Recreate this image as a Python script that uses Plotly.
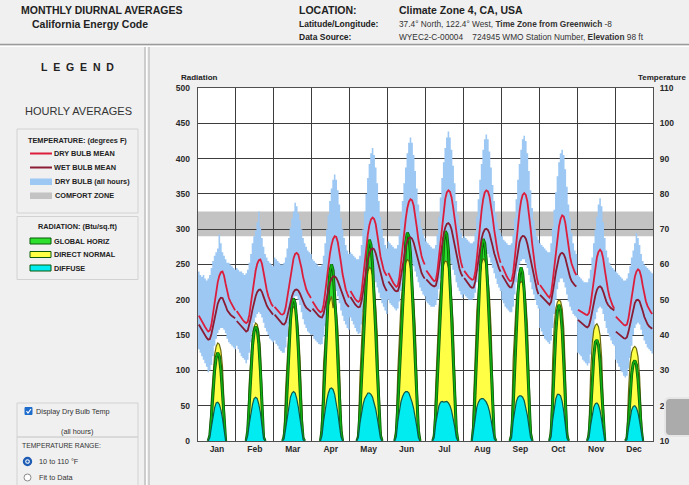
import plotly.graph_objects as go

# ---------------- data ----------------
MONTHS = ["Jan", "Feb", "Mar", "Apr", "May", "Jun", "Jul", "Aug", "Sep", "Oct", "Nov", "Dec"]
COMFORT_ZONE = (68, 75)                      # degrees F
TEMP_TICKS = list(range(10, 111, 10))
RAD_TICKS = list(range(0, 501, 50))

# hourly means (h0..h23), degrees F
DRY_MEAN = [
    [45.5, 44.6, 43.8, 43.0, 42.3, 41.6, 41.0, 41.3, 43.0, 46.0, 49.5, 52.5, 55.0, 56.8, 57.8, 58.0, 56.8, 54.5, 52.0, 50.5, 49.5, 48.6, 47.8, 47.0],
    [46.8, 46.1, 45.4, 44.8, 44.2, 43.7, 43.4, 43.8, 45.8, 49.0, 52.5, 55.7, 58.3, 60.2, 61.2, 61.4, 60.2, 57.8, 55.0, 52.8, 51.0, 49.8, 48.8, 48.1],
    [48.0, 47.4, 46.8, 46.3, 45.9, 45.8, 46.2, 47.8, 50.5, 53.8, 57.0, 59.8, 61.8, 63.0, 63.3, 62.8, 61.2, 59.0, 56.5, 54.5, 53.0, 52.0, 51.2, 50.5],
    [49.5, 48.7, 48.0, 47.4, 46.9, 46.5, 46.7, 48.6, 52.0, 56.0, 59.8, 63.0, 65.5, 67.2, 68.0, 67.8, 66.3, 63.8, 60.5, 57.3, 54.9, 53.0, 51.7, 50.6],
    [52.5, 51.6, 50.8, 50.2, 49.7, 49.4, 49.8, 52.2, 56.2, 60.8, 65.0, 68.5, 71.2, 72.8, 73.3, 72.9, 71.4, 68.8, 65.5, 62.3, 60.0, 58.5, 57.5, 56.8],
    [57.6, 56.6, 55.7, 54.9, 54.2, 53.7, 54.0, 56.5, 60.5, 65.0, 69.3, 73.0, 76.0, 77.8, 78.5, 78.2, 76.7, 74.0, 70.5, 67.0, 64.3, 62.4, 61.0, 60.0],
    [58.3, 57.6, 56.9, 56.3, 55.8, 55.3, 55.5, 58.0, 62.3, 67.2, 71.8, 75.6, 78.6, 80.4, 81.0, 80.6, 79.0, 76.2, 72.6, 68.8, 65.5, 62.8, 60.6, 59.0],
    [58.2, 57.5, 56.9, 56.4, 56.0, 55.7, 55.8, 57.8, 61.8, 66.6, 71.3, 75.3, 78.5, 80.4, 81.0, 80.7, 79.3, 76.8, 73.4, 69.8, 66.6, 64.0, 62.0, 60.5],
    [59.6, 58.5, 57.5, 56.6, 55.8, 55.3, 55.4, 57.6, 61.8, 66.6, 71.2, 75.0, 78.0, 79.7, 80.2, 79.7, 77.8, 74.6, 70.4, 66.0, 62.0, 58.8, 56.2, 54.2],
    [54.2, 53.5, 52.8, 52.1, 51.5, 51.0, 50.6, 51.8, 55.2, 59.6, 64.0, 67.8, 70.8, 72.9, 73.9, 73.6, 71.8, 68.5, 65.0, 62.2, 60.2, 58.8, 57.8, 57.0],
    [47.2, 46.9, 46.6, 46.3, 46.0, 45.8, 45.7, 46.3, 48.7, 52.3, 56.0, 59.3, 62.0, 63.6, 64.2, 63.6, 61.6, 58.5, 55.3, 52.8, 50.8, 49.3, 48.3, 47.5],
    [45.2, 44.7, 44.2, 43.7, 43.2, 42.9, 42.7, 43.0, 44.8, 47.8, 51.0, 54.0, 56.5, 58.0, 58.6, 58.2, 56.6, 54.0, 51.5, 49.6, 48.3, 47.3, 46.6, 46.0],
]
WET_MEAN = [
    [43.0, 42.2, 41.4, 40.6, 39.9, 39.2, 38.7, 38.9, 40.3, 42.6, 45.0, 47.2, 48.9, 50.0, 50.6, 50.5, 49.6, 48.3, 47.0, 46.3, 45.8, 45.4, 45.1, 44.8],
    [44.0, 43.5, 42.9, 42.3, 41.8, 41.3, 41.0, 41.3, 42.8, 45.0, 47.3, 49.3, 51.0, 52.2, 52.8, 52.9, 52.2, 50.9, 49.5, 48.4, 47.6, 46.9, 46.3, 45.8],
    [45.8, 45.2, 44.6, 44.0, 43.5, 43.1, 43.0, 43.6, 45.3, 47.4, 49.4, 51.0, 52.2, 52.8, 52.9, 52.6, 51.8, 50.6, 49.4, 48.5, 47.8, 47.3, 47.0, 46.7],
    [47.5, 46.9, 46.3, 45.8, 45.4, 45.1, 45.0, 46.0, 48.3, 50.8, 53.0, 54.8, 56.0, 56.6, 56.6, 56.2, 55.3, 54.0, 52.5, 51.1, 50.0, 49.1, 48.5, 48.0],
    [50.8, 50.0, 49.3, 48.7, 48.2, 47.9, 48.0, 49.6, 52.4, 55.6, 58.6, 61.2, 63.2, 64.3, 64.6, 64.3, 63.2, 61.4, 59.2, 57.2, 55.6, 54.3, 53.3, 52.5],
    [55.2, 54.5, 53.8, 53.2, 52.7, 52.4, 52.5, 54.0, 56.8, 59.8, 62.6, 64.9, 66.6, 67.5, 67.7, 67.3, 66.2, 64.5, 62.4, 60.5, 58.9, 57.6, 56.7, 56.0],
    [55.8, 55.2, 54.7, 54.3, 54.0, 53.8, 54.0, 55.8, 59.0, 62.6, 65.9, 68.6, 70.5, 71.5, 71.7, 71.2, 69.9, 67.8, 65.3, 62.8, 60.6, 58.8, 57.5, 56.6],
    [56.2, 55.5, 54.8, 54.2, 53.7, 53.4, 53.5, 55.2, 58.3, 61.7, 64.8, 67.3, 69.0, 69.9, 70.1, 69.8, 68.8, 67.2, 65.2, 63.2, 61.5, 60.0, 58.9, 58.0],
    [57.0, 56.2, 55.4, 54.7, 54.0, 53.5, 53.5, 55.0, 58.0, 61.2, 64.1, 66.3, 67.6, 68.1, 68.0, 67.3, 65.8, 63.6, 61.0, 58.6, 56.4, 54.5, 52.9, 51.6],
    [51.4, 50.9, 50.3, 49.8, 49.3, 48.9, 48.6, 49.4, 51.8, 54.8, 57.8, 60.3, 62.1, 63.1, 63.3, 62.9, 61.8, 60.0, 58.0, 56.4, 55.3, 54.6, 54.1, 53.8],
    [44.3, 43.9, 43.5, 43.1, 42.7, 42.4, 42.2, 42.7, 44.4, 46.8, 49.2, 51.2, 52.8, 53.6, 53.8, 53.4, 52.3, 50.8, 49.5, 48.6, 48.0, 47.6, 47.3, 47.0],
    [41.0, 40.6, 40.2, 39.8, 39.4, 39.1, 39.0, 39.4, 41.0, 43.3, 45.6, 47.6, 49.1, 49.9, 50.0, 49.6, 48.4, 46.8, 45.2, 44.0, 43.1, 42.5, 42.1, 41.8],
]
# dry bulb, all hours: hourly maximum / minimum, degrees F
DRY_MAX = [
    [58, 57, 56.5, 57, 56, 55.5, 56, 57, 59, 61, 62.5, 63.5, 64.5, 68.5, 66, 63.5, 62.5, 61.5, 60.5, 60.5, 60, 59.5, 59, 58.5],
    [59, 58.5, 58, 58, 57.5, 57, 57.5, 58.5, 60.5, 63, 66, 68, 69.5, 72, 75, 70.5, 67.5, 65, 63, 62, 61, 60.5, 60, 59.5],
    [62, 61.5, 61, 60.5, 60, 60, 60.5, 62, 64.5, 67.5, 70.5, 73, 75, 77.5, 76.5, 74.5, 72.5, 70, 67.5, 66, 65, 64, 63.5, 63],
    [61.5, 61, 60.5, 60, 59.5, 59.5, 60, 62.5, 66, 70, 74, 78, 81.5, 84, 85.5, 84, 81, 77, 73, 70, 67.5, 65.5, 64, 63],
    [63.5, 63, 62.5, 62, 61.5, 61.5, 62.5, 65.5, 70, 75, 80, 84.5, 88.5, 91.5, 93, 91, 87.5, 83, 78, 73.5, 70, 67.5, 65.5, 64.5],
    [66.5, 66, 65.5, 65, 64.5, 64.5, 65.5, 68.5, 73, 78, 83, 87.5, 91.5, 94.5, 96, 94.5, 91, 86.5, 81.5, 77, 73, 70.5, 68.5, 67.5],
    [66.5, 66, 65.5, 65, 64.5, 64.5, 65.5, 68.5, 73.5, 79, 84.5, 89, 93, 96, 97.7, 96, 92.5, 88, 83, 78, 74, 71, 69, 67.5],
    [68, 67.5, 67, 66.5, 66, 66, 66.5, 69, 73.5, 78.5, 84, 88.5, 92.5, 95.5, 96.8, 95.5, 92, 87.5, 82.5, 78, 74.5, 72, 70, 69],
    [68, 67, 66.5, 66, 65.5, 65.5, 66, 68.5, 73, 78.5, 84, 88.5, 92.5, 95.5, 96.5, 95, 91.5, 86.5, 81, 76, 72.5, 70, 68, 67],
    [66, 65.5, 65, 64.5, 64, 63.5, 63.5, 66, 70.5, 75.5, 80.5, 85, 89, 91.5, 92.5, 91, 87, 82, 77, 73, 69, 66, 64, 63],
    [57, 56.5, 56, 55.5, 55, 55, 55, 56, 58.5, 62, 66, 70, 73.5, 77, 78.8, 76.5, 72, 67.5, 64, 62, 60.5, 59.5, 59, 58.5],
    [58, 57.5, 57, 56.5, 56, 55.5, 55.5, 56, 57.5, 59.5, 62, 64, 66, 68.9, 67.5, 65.5, 63, 61, 60, 59.5, 59, 58.5, 58, 57.5],
]
DRY_MIN = [
    [36, 35, 34, 33, 32, 31, 29.5, 30, 31.5, 34, 37, 39, 40.5, 41.5, 42, 42, 41.5, 40.5, 39, 38, 37.5, 37, 36.5, 36],
    [37, 36, 35, 34, 33.5, 33, 32, 33, 35, 38, 41, 43.5, 45, 46, 46.5, 46, 45, 43.5, 42, 41, 40, 39, 38.5, 38],
    [38.5, 37.5, 37, 36, 35.5, 35, 35, 36.5, 39.5, 43, 46.5, 49, 50.5, 51, 51, 50, 48.5, 46.5, 44.5, 43, 42, 41, 40.5, 40],
    [40, 39, 38.5, 38, 37.5, 37.3, 37.5, 39.5, 42.5, 46, 49.5, 52, 53.5, 54, 53.5, 52.5, 51, 49, 47, 45.5, 44, 43, 42, 41.5],
    [45, 44, 43, 42, 41, 40.3, 40.5, 43, 46.5, 50, 53, 55, 56, 56.5, 56.5, 56, 55, 53.5, 52, 50.5, 49, 48, 47, 46],
    [50, 49, 48.5, 48, 47.5, 47, 47.5, 49.5, 52.5, 55.5, 58, 59.5, 60.5, 61, 61, 60.5, 59.5, 58, 56.5, 55, 53.5, 52.5, 51.5, 51],
    [49.5, 49, 48.5, 48, 48, 48, 48.5, 50, 53, 56, 58.5, 60, 61, 61.5, 61.5, 61, 60, 58.5, 57, 55, 53.5, 52.5, 51.5, 50.5],
    [51.5, 51, 50.5, 50, 50, 50, 50.5, 52, 55, 58, 60.5, 62, 63, 63.5, 63.5, 63, 62, 60.5, 59, 57.5, 56, 54.5, 53.5, 52.5],
    [50, 49, 48, 47.5, 47, 46.5, 46.5, 48, 51.5, 55, 58, 60, 61, 61.5, 61.5, 60.5, 59, 57, 55, 53, 51.5, 50, 48.5, 47.5],
    [42, 41, 40, 39, 38.5, 38, 37.5, 38.5, 42, 46, 50, 53, 55, 56, 56, 55, 53.5, 51.5, 49.5, 48, 47, 46, 45.5, 45],
    [35, 34.5, 34, 33, 32.5, 32, 31.4, 32, 34.5, 38, 41.5, 44.5, 46.5, 47.5, 48, 47.5, 46, 44, 42, 40.5, 39.5, 38.5, 37.5, 37],
    [33, 32, 31, 30, 29.5, 28.5, 28, 28.5, 30.5, 33.5, 37, 40, 42, 43, 43.5, 43, 41.5, 40, 38.5, 37.5, 36.5, 36, 35.5, 34.8],
]
# radiation (Btu/sq.ft), daylight hours only, first daylight hour per month
RAD_START = [7, 7, 6, 6, 5, 5, 5, 6, 6, 7, 7, 7]
GLOBAL_HORIZ = [
    [8, 35, 70, 100, 118, 125, 120, 100, 68, 30],
    [15, 55, 100, 135, 155, 162, 158, 138, 100, 50, 5],
    [5, 30, 80, 130, 170, 195, 202, 195, 170, 130, 80, 30, 4],
    [15, 60, 115, 165, 210, 240, 250, 242, 212, 168, 115, 60, 15],
    [5, 40, 90, 145, 195, 240, 272, 285, 278, 250, 208, 155, 100, 45, 8],
    [10, 50, 100, 155, 205, 250, 282, 295, 290, 265, 225, 172, 115, 58, 15],
    [6, 40, 90, 148, 200, 248, 282, 297, 293, 270, 230, 178, 120, 62, 15],
    [22, 75, 135, 190, 238, 272, 286, 280, 255, 212, 158, 100, 42, 6],
    [8, 50, 110, 165, 208, 236, 246, 238, 212, 168, 112, 55, 10],
    [10, 55, 110, 155, 184, 193, 185, 158, 112, 55, 8],
    [8, 40, 85, 120, 140, 143, 136, 112, 72, 25],
    [3, 28, 65, 95, 110, 114, 108, 88, 55, 18],
]
DIRECT_NORMAL = [
    [10, 60, 100, 122, 134, 139, 137, 128, 105, 55],
    [25, 85, 125, 150, 162, 167, 165, 155, 130, 80, 10],
    [15, 75, 125, 155, 175, 186, 190, 188, 178, 158, 120, 60, 8],
    [40, 110, 150, 175, 192, 200, 205, 188, 204, 185, 160, 110, 35],
    [15, 90, 150, 185, 210, 228, 240, 246, 244, 235, 218, 190, 150, 80, 15],
    [25, 100, 160, 195, 220, 240, 252, 257, 255, 245, 228, 200, 160, 95, 25],
    [15, 80, 145, 185, 215, 238, 250, 255, 254, 246, 230, 204, 165, 100, 25],
    [55, 135, 185, 215, 238, 252, 258, 256, 248, 232, 205, 160, 85, 12],
    [25, 115, 170, 200, 216, 223, 226, 224, 215, 198, 165, 105, 25],
    [25, 115, 165, 188, 197, 200, 198, 188, 160, 100, 20],
    [20, 95, 138, 157, 164, 166, 162, 150, 118, 55],
    [8, 70, 110, 126, 132, 134, 131, 120, 92, 38],
]
DIFFUSE = [
    [5, 20, 35, 47, 54, 55, 52, 44, 32, 15],
    [8, 25, 40, 52, 60, 62, 60, 52, 40, 22, 3],
    [3, 18, 35, 50, 62, 68, 70, 68, 60, 48, 32, 15, 2],
    [8, 28, 45, 58, 68, 74, 75, 73, 66, 55, 40, 22, 6],
    [5, 25, 40, 52, 60, 65, 68, 68, 66, 62, 55, 45, 32, 18, 4],
    [6, 28, 45, 56, 63, 68, 70, 70, 68, 62, 55, 46, 35, 20, 5],
    [5, 25, 40, 50, 55, 56, 55, 56, 56, 54, 50, 43, 33, 20, 5],
    [15, 35, 48, 55, 59, 60, 60, 58, 55, 50, 42, 30, 15, 3],
    [5, 28, 45, 56, 62, 64, 64, 62, 57, 48, 36, 20, 5],
    [6, 30, 48, 60, 66, 66, 64, 56, 42, 24, 4],
    [5, 22, 38, 48, 53, 54, 51, 43, 30, 12],
    [2, 18, 34, 44, 49, 50, 47, 40, 28, 10],
]

# ---------------- styling ----------------
FONT = "Liberation Sans, Arial, sans-serif"
TXT = "#222222"
BLUE_BAND = "#9dc8f4"
COMFORT_CLR = "#c3c3c3"
DRY_CLR = "#dc1e3c"
WET_CLR = "#8a1c34"
GREEN_FILL = "#2ee02e"
GREEN_LINE = "#10b010"
GREEN_DARK = "#0b5a0b"
YELLOW_FILL = "#ffff45"
YELLOW_LINE = "#6a6a10"
CYAN_FILL = "#00ecf0"
CYAN_LINE = "#0d5848"
GRID = "#3c3c3c"

W, H = 689, 485
PL, PR, PT, PB = 198, 653, 88, 441   # plot area in pixels


def X(px):
    return (px - PL) / (PR - PL)


def Y(py):
    return (PB - py) / (PB - PT)


fig = go.Figure()

# ---- dry bulb all hours band (hourly steps) ----
bx, bmin, bmax = [], [], []
for m in range(12):
    for h in range(24):
        bx.append(24 * m + h)
        bmin.append(DRY_MIN[m][h])
        bmax.append(DRY_MAX[m][h])
bx.append(288)
bmin.append(DRY_MIN[-1][-1])
bmax.append(DRY_MAX[-1][-1])
fig.add_trace(go.Scatter(x=bx, y=bmin, mode="lines", line=dict(width=0, shape="hv"),
                         hoverinfo="skip", yaxis="y"))
fig.add_trace(go.Scatter(x=bx, y=bmax, mode="lines", line=dict(width=0, shape="hv"),
                         fill="tonexty", fillcolor=BLUE_BAND, hoverinfo="skip", yaxis="y"))


# ---- radiation ----
def rad_series(series):
    xs, ys = [], []
    for m in range(12):
        s = RAD_START[m]
        vals = series[m]
        xs.append(24 * m + s - 1 + 0.5)
        ys.append(0)
        for i, v in enumerate(vals):
            xs.append(24 * m + s + i + 0.5)
            ys.append(v)
        xs.append(24 * m + s + len(vals) + 0.5)
        ys.append(0)
        xs.append(None)
        ys.append(None)
    return xs, ys


gx, gy = rad_series(GLOBAL_HORIZ)
dx, dy = rad_series(DIRECT_NORMAL)
fx, fy = rad_series(DIFFUSE)
fig.add_trace(go.Scatter(x=gx, y=gy, mode="lines", line=dict(width=0), fill="tozeroy",
                         fillcolor=GREEN_FILL, hoverinfo="skip", yaxis="y2"))
fig.add_trace(go.Scatter(x=dx, y=dy, mode="lines", line=dict(width=1.2, color=YELLOW_LINE),
                         fill="tozeroy", fillcolor=YELLOW_FILL, hoverinfo="skip", yaxis="y2"))
fig.add_trace(go.Scatter(x=gx, y=gy, mode="lines", line=dict(width=3, color=GREEN_DARK),
                         hoverinfo="skip", yaxis="y2"))
fig.add_trace(go.Scatter(x=gx, y=gy, mode="lines", line=dict(width=1.5, color=GREEN_LINE),
                         hoverinfo="skip", yaxis="y2"))
fig.add_trace(go.Scatter(x=fx, y=fy, mode="lines", line=dict(width=1.2, color=CYAN_LINE),
                         fill="tozeroy", fillcolor=CYAN_FILL, hoverinfo="skip", yaxis="y2"))


# ---- hourly mean temperatures ----
def mean_series(data):
    xs, ys = [], []
    for m in range(12):
        for h in range(24):
            xs.append(24 * m + h + 0.5)
            ys.append(data[m][h])
        xs.append(None)
        ys.append(None)
    return xs, ys


mx, my = mean_series(WET_MEAN)
fig.add_trace(go.Scatter(x=mx, y=my, mode="lines", line=dict(width=1.8, color=WET_CLR),
                         hoverinfo="skip", yaxis="y3"))
mx, my = mean_series(DRY_MEAN)
fig.add_trace(go.Scatter(x=mx, y=my, mode="lines", line=dict(width=1.8, color=DRY_CLR),
                         hoverinfo="skip", yaxis="y3"))

tickfont = dict(family=FONT, size=8.5, color="#2a2a2a", weight="bold")
fig.update_layout(
    width=W, height=H,
    margin=dict(l=PL, r=W - PR, t=PT, b=H - PB, pad=0),
    paper_bgcolor="#f0f0f0", plot_bgcolor="white",
    showlegend=False,
    font=dict(family=FONT, color=TXT),
    xaxis=dict(range=[0, 288], tickmode="array", tickvals=[24 * m + 12 for m in range(12)],
               ticktext=MONTHS, tickfont=tickfont, showgrid=False, zeroline=False,
               ticks="", showline=True, mirror=True, linecolor="#505050", linewidth=1,
               minor=dict(tick0=0, dtick=24, showgrid=True, gridcolor=GRID, gridwidth=1, ticks="")),
    yaxis=dict(range=[10, 110], tickmode="array", tickvals=TEMP_TICKS, side="right",
               tickfont=tickfont, showgrid=True, gridcolor=GRID, gridwidth=1, zeroline=False,
               ticks="", ticklabelstandoff=4,
               showline=True, mirror=True, linecolor="#505050", linewidth=1),
    yaxis2=dict(range=[0, 500], tickmode="array", tickvals=RAD_TICKS, side="left",
                overlaying="y", tickfont=tickfont, showgrid=False, zeroline=False,
                ticks="", ticklabelstandoff=7, showline=False),
    yaxis3=dict(range=[10, 110], overlaying="y", visible=False, showgrid=False, zeroline=False),
)

shapes = []
ann = []


def rect(x0, y0, x1, y1, fill="rgba(0,0,0,0)", line="rgba(0,0,0,0)", lw=1, layer="above"):
    shapes.append(dict(type="rect", xref="paper", yref="paper", x0=X(x0), x1=X(x1),
                       y0=Y(y1), y1=Y(y0), fillcolor=fill, line=dict(color=line, width=lw),
                       layer=layer))


def hline(x0, x1, y, color, lw=1):
    shapes.append(dict(type="line", xref="paper", yref="paper", x0=X(x0), x1=X(x1),
                       y0=Y(y), y1=Y(y), line=dict(color=color, width=lw), layer="above"))


def vline(x, y0, y1, color, lw=1):
    shapes.append(dict(type="line", xref="paper", yref="paper", x0=X(x), x1=X(x),
                       y0=Y(y0), y1=Y(y1), line=dict(color=color, width=lw), layer="above"))


def txt(x, y, s, size, bold=False, anchor="left", color=TXT):
    ann.append(dict(xref="paper", yref="paper", x=X(x), y=Y(y), text=s, showarrow=False,
                    xanchor=anchor, yanchor="middle",
                    font=dict(family=FONT, size=size, color=color,
                              weight="bold" if bold else "normal")))


# comfort zone band (under the grid)
shapes.append(dict(type="rect", xref="x", yref="y", x0=0, x1=288,
                   y0=COMFORT_ZONE[0], y1=COMFORT_ZONE[1],
                   fillcolor=COMFORT_CLR, line=dict(width=0), layer="below"))

# header + panel separators
hline(0, 689, 44.5, "#9a9a9a", 1.5)
hline(0, 689, 46.5, "#ffffff", 1)
vline(145, 47, 485, "#a8a8a8", 1)
vline(146.5, 47, 485, "#ffffff", 1)
vline(149, 47, 485, "#b0b0b0", 1)

# header text
txt(19, 10, "MONTHLY DIURNAL AVERAGES", 10.5, True)
txt(30, 24, "California Energy Code", 10.5, True)
txt(297, 10, "LOCATION:", 10.5, True)
txt(397, 10, "Climate Zone 4, CA, USA", 10.5, True)
txt(297, 24, "Latitude/Longitude:", 8.5, True)
txt(397, 24, "37.4° North, 122.4° West, <b>Time Zone from Greenwich</b> -8", 8.3, color="#333333")
txt(297, 37, "Data Source:", 8.5, True)
txt(397, 37, "WYEC2-C-00004\u00a0\u00a0\u00a0\u00a0724945 WMO Station Number, <b>Elevation</b> 98 ft", 8.3,
    color="#333333")

# axis titles
txt(179, 77, "Radiation", 8, True)
txt(688, 77, "Temperature", 8, True, anchor="right")

# legend panel
txt(77, 67, "L\u00a0\u00a0E\u00a0\u00a0G\u00a0\u00a0E\u00a0\u00a0N\u00a0\u00a0D", 10.5, True, anchor="center")
txt(78, 111, "HOURLY AVERAGES", 11, False, anchor="center", color="#333333")
rect(17, 129, 138, 213, line="#d2d2d2")
rect(17, 216.5, 138, 279.5, line="#d2d2d2")
txt(77, 140, "TEMPERATURE: (degrees F)", 7.3, True, anchor="center")
hline(30, 52, 153.5, DRY_CLR, 2)
txt(52, 153.5, "DRY BULB MEAN", 7.3, True)
hline(30, 52, 167.5, WET_CLR, 2)
txt(52, 167.5, "WET BULB MEAN", 7.3, True)
rect(30, 178.5, 52, 185, fill=BLUE_BAND)
txt(53, 181.5, "DRY BULB (all hours)", 7.3, True)
rect(30, 192.5, 52, 199, fill=COMFORT_CLR)
txt(53, 195.5, "COMFORT ZONE", 7.3, True)
txt(77, 227, "RADIATION: (Btu/sq.ft)", 7.3, True, anchor="center")
rect(30, 238, 51, 244, fill=GREEN_FILL, line=GREEN_DARK, lw=1)
txt(52, 241, "GLOBAL HORIZ", 7.3, True)
rect(30, 251.5, 51, 257.5, fill=YELLOW_FILL, line=GREEN_DARK, lw=1)
txt(52, 254.5, "DIRECT NORMAL", 7.3, True)
rect(30, 265, 51, 271, fill=CYAN_FILL, line=GREEN_DARK, lw=1)
txt(52, 268, "DIFFUSE", 7.3, True)

# bottom controls
rect(17, 403, 138, 437, line="#d2d2d2")
rect(17, 437, 138, 486, line="#d2d2d2")
rect(25, 407.5, 32, 414.5, fill="#1e6ccc", line="#1e6ccc")
shapes.append(dict(type="path", xref="paper", yref="paper",
                   path="M %f,%f L %f,%f L %f,%f" % (X(26.5), Y(411), X(28), Y(413), X(31), Y(409)),
                   line=dict(color="white", width=1.2), layer="above"))
txt(34, 411.5, "Display Dry Bulb Temp", 7.3, color="#333333")
txt(77, 431, "(all hours)", 7.3, anchor="center", color="#333333")
txt(20, 445, "TEMPERATURE RANGE:", 6.8, color="#333333")
shapes.append(dict(type="circle", xref="paper", yref="paper", x0=X(24), x1=X(31), y0=Y(465), y1=Y(458),
                   fillcolor="#ffffff", line=dict(color="#1e5cb4", width=2.4), layer="above"))
shapes.append(dict(type="circle", xref="paper", yref="paper", x0=X(26.3), x1=X(28.7), y0=Y(462.7), y1=Y(460.3),
                   fillcolor="#1e5cb4", line=dict(width=0), layer="above"))
txt(37, 461.5, "10 to 110 °F", 7.3, color="#333333")
shapes.append(dict(type="circle", xref="paper", yref="paper", x0=X(24), x1=X(31), y0=Y(481), y1=Y(474),
                   fillcolor="#ffffff", line=dict(color="#8a8a8a", width=1), layer="above"))
txt(37, 477.5, "Fit to Data", 7.3, color="#333333")

# partially visible UI button at right edge
bx0, bx1, by0, by1, r = 665, 693, 398, 436, 5
path = ("M %f,%f L %f,%f L %f,%f L %f,%f Q %f,%f %f,%f L %f,%f Q %f,%f %f,%f Z" % (
    X(bx0 + r), Y(by0), X(bx1), Y(by0), X(bx1), Y(by1), X(bx0 + r), Y(by1),
    X(bx0), Y(by1), X(bx0), Y(by1 - r), X(bx0), Y(by0 + r), X(bx0), Y(by0), X(bx0 + r), Y(by0)))
shapes.append(dict(type="path", xref="paper", yref="paper", path=path,
                   fillcolor="#ababab", line=dict(color="#e6e6e6", width=2), layer="above"))

fig.update_layout(shapes=shapes, annotations=ann)
fig.write_html("out.html", config={"displayModeBar": False},
               post_script="document.body.style.margin='0';document.body.style.overflow='hidden';")
